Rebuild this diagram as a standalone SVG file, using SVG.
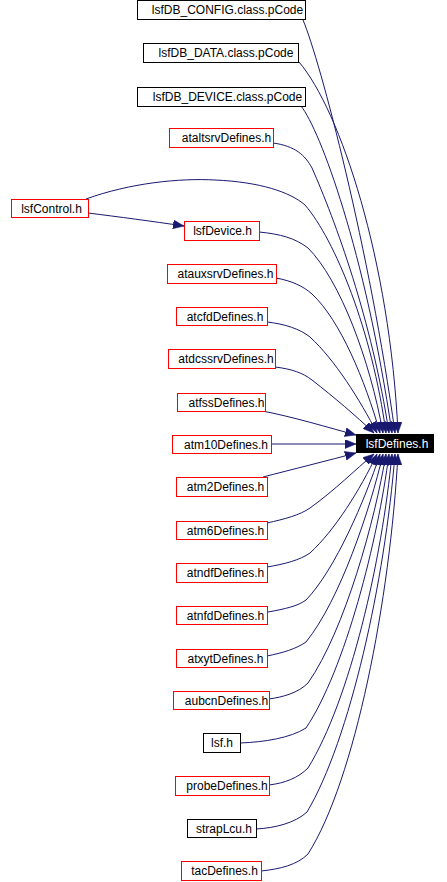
<svg xmlns="http://www.w3.org/2000/svg" width="447" height="882" viewBox="0 0 447 882">
<style>
  .n rect { fill: #ffffff; stroke: #ff0000; stroke-width: 1; }
  .n.b rect { stroke: #000000; }
  .n text { font-family: "Liberation Sans", Arial, sans-serif; font-size: 12px; fill: #000000; text-anchor: middle; }
  #lsfDefines rect { fill: #000000; stroke: #000000; }
  #lsfDefines text { fill: #ffffff; }
  .e path { fill: none; stroke: #191970; stroke-width: 1; marker-end: url(#arr); }
</style>
<defs>
  <marker id="arr" markerUnits="userSpaceOnUse" markerWidth="12" markerHeight="9" refX="11" refY="4.5" orient="auto">
    <path d="M0,0 L11,4.5 L0,9 z" fill="#191970" stroke="#191970" stroke-width="0.5"/>
  </marker>
</defs>
<rect x="0" y="0" width="447" height="882" fill="#ffffff"/>
<g id="edges" class="e">
  <path d="M303,20 C320,60 370,250 395,433"/>
  <path d="M299,62 C340,110 390,260 398,433"/>
  <path d="M301,106 C320,130 365,250 392,433"/>
  <path d="M273,143 C295,146 305,155 312,168 C335,220 372,320 389,433"/>
  <path d="M86,199 C130,183 180,178 215,180 C260,182 290,192 305,205 C335,240 372,330 386,433"/>
  <path d="M88,213 C120,217 150,221 184,226"/>
  <path d="M259,232 C280,234 295,238 308,248 C340,280 370,360 383,433"/>
  <path d="M276,278 C292,281 303,286 312,294 C340,320 365,380 380,433"/>
  <path d="M267,322 C285,324 300,329 310,337 C335,360 360,400 377,433"/>
  <path d="M275,367 C292,369 303,373 312,380 C335,398 355,415 374,433"/>
  <path d="M262,411 C290,416 330,428 356,435"/>
  <path d="M271,444 L356,444"/>
  <path d="M263,477 C290,470 330,460 356,453"/>
  <path d="M267,523 C285,519 300,515 310,508 C335,490 355,470 374,454"/>
  <path d="M267,567 C285,564 300,560 310,553 C335,530 360,490 377,454"/>
  <path d="M268,612 C285,609 298,606 306,600 C335,570 365,500 380,454"/>
  <path d="M267,656 C282,653 296,649 306,642 C340,600 370,510 383,454"/>
  <path d="M269,699 C283,697 298,693 308,683 C345,630 375,520 386,454"/>
  <path d="M240,743 C265,742 290,738 306,728 C345,670 378,540 389,454"/>
  <path d="M269,785 C285,783 298,778 308,768 C350,700 382,560 392,454"/>
  <path d="M256,829 C275,828 295,823 307,812 C350,740 385,580 395,454"/>
  <path d="M261,871 C280,869 297,865 308,854 C355,780 390,600 398,454"/>
</g>
<g id="lsfDefines" class="n"><rect x="356.5" y="434.5" width="77" height="18"/><text x="397" y="448">lsfDefines.h</text></g>
<g id="lsfDB_CONFIG" class="n b"><rect x="137.5" y="0.5" width="168" height="19"/><text x="227.5" y="14">lsfDB_CONFIG.class.pCode</text></g>
<g id="lsfDB_DATA" class="n b"><rect x="143.5" y="43.5" width="155" height="19"/><text x="226" y="57">lsfDB_DATA.class.pCode</text></g>
<g id="lsfDB_DEVICE" class="n b"><rect x="137.5" y="87.5" width="168" height="19"/><text x="227.5" y="101">lsfDB_DEVICE.class.pCode</text></g>
<g id="ataltsrvDefines" class="n"><rect x="169.5" y="128.5" width="104" height="19"/><text x="226.5" y="142">ataltsrvDefines.h</text></g>
<g id="lsfControl" class="n"><rect x="11.5" y="199.5" width="77" height="18"/><text x="51.5" y="213">lsfControl.h</text></g>
<g id="lsfDevice" class="n"><rect x="184.5" y="221.5" width="75" height="19"/><text x="222.5" y="235">lsfDevice.h</text></g>
<g id="atauxsrvDefines" class="n"><rect x="167.5" y="264.5" width="109" height="19"/><text x="225.5" y="278">atauxsrvDefines.h</text></g>
<g id="atcfdDefines" class="n"><rect x="176.5" y="307.5" width="91" height="18"/><text x="225" y="321">atcfdDefines.h</text></g>
<g id="atdcssrvDefines" class="n"><rect x="168.5" y="349.5" width="107" height="19"/><text x="226" y="363">atdcssrvDefines.h</text></g>
<g id="atfssDefines" class="n"><rect x="177.5" y="393.5" width="88" height="18"/><text x="226.5" y="407">atfssDefines.h</text></g>
<g id="atm10Defines" class="n"><rect x="172.5" y="435.5" width="99" height="18"/><text x="226" y="449">atm10Defines.h</text></g>
<g id="atm2Defines" class="n"><rect x="176.5" y="477.5" width="91" height="19"/><text x="225.5" y="491">atm2Defines.h</text></g>
<g id="atm6Defines" class="n"><rect x="176.5" y="521.5" width="91" height="18"/><text x="225.5" y="535">atm6Defines.h</text></g>
<g id="atndfDefines" class="n"><rect x="176.5" y="563.5" width="91" height="19"/><text x="225.5" y="577">atndfDefines.h</text></g>
<g id="atnfdDefines" class="n"><rect x="176.5" y="606.5" width="91" height="18"/><text x="225.5" y="620">atnfdDefines.h</text></g>
<g id="atxytDefines" class="n"><rect x="176.5" y="649.5" width="91" height="18"/><text x="225.5" y="663">atxytDefines.h</text></g>
<g id="aubcnDefines" class="n"><rect x="173.5" y="691.5" width="96" height="18"/><text x="226.5" y="705">aubcnDefines.h</text></g>
<g id="lsf" class="n b"><rect x="203.5" y="733.5" width="37" height="19"/><text x="222" y="747">lsf.h</text></g>
<g id="probeDefines" class="n"><rect x="175.5" y="776.5" width="94" height="19"/><text x="227" y="790">probeDefines.h</text></g>
<g id="strapLcu" class="n b"><rect x="187.5" y="819.5" width="69" height="18"/><text x="224" y="833">strapLcu.h</text></g>
<g id="tacDefines" class="n"><rect x="181.5" y="861.5" width="80" height="19"/><text x="224.5" y="875">tacDefines.h</text></g>
</svg>
